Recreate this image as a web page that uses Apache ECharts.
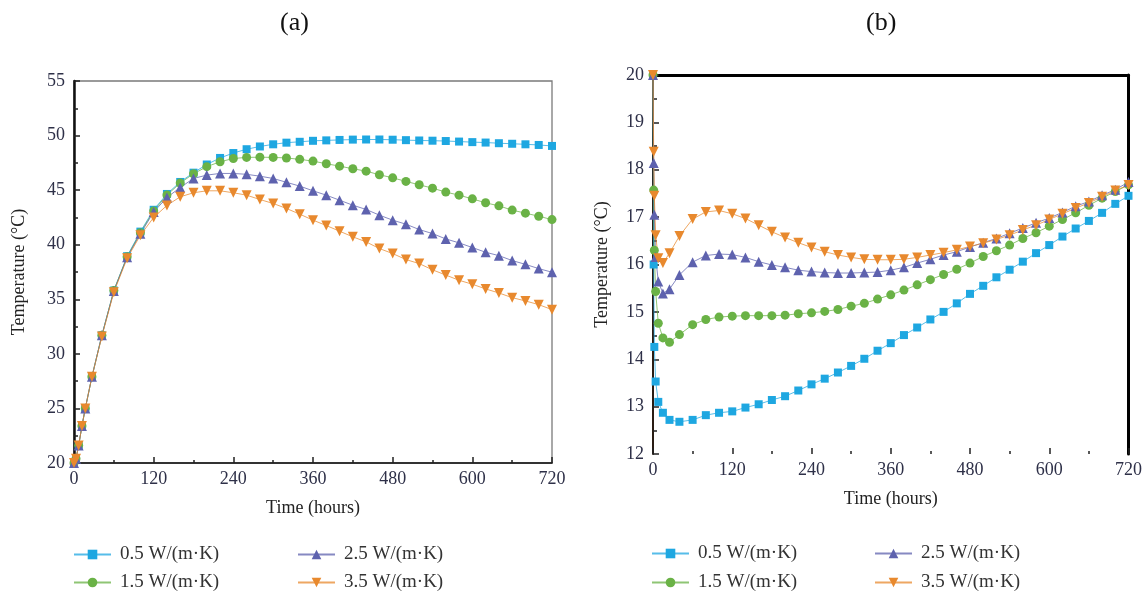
<!DOCTYPE html>
<html>
<head>
<meta charset="utf-8">
<script src="https://cdn.jsdelivr.net/npm/echarts@6/dist/echarts.min.js"></script>
<style>
html,body{margin:0;padding:0;background:#fff;}
#main{width:1145px;height:595px;}
</style>
</head>
<body>
<div id="main"></div>
<script>
// ---------- DATA ----------
var seriesNames = ['0.5 W/(m·K)', '1.5 W/(m·K)', '2.5 W/(m·K)', '3.5 W/(m·K)'];

// Panel (a) times (hours)
var timeA = [0, 3, 7, 12, 17, 27, 42, 60, 80, 100, 120, 140, 160, 180, 200, 220, 240, 260, 280, 300,
  320, 340, 360, 380, 400, 420, 440, 460, 480, 500, 520, 540, 560, 580, 600, 620, 640, 660, 680, 700, 720];
var blueA = [20, 20.4, 21.6, 23.4, 25.0, 27.9, 31.7, 35.8, 38.95, 41.2, 43.2, 44.65, 45.75, 46.6, 47.35, 47.95, 48.4, 48.75, 49.0, 49.2,
  49.35, 49.43, 49.52, 49.56, 49.6, 49.63, 49.64, 49.64, 49.62, 49.58, 49.55, 49.53, 49.5, 49.45, 49.4, 49.36, 49.3, 49.25, 49.2, 49.14, 49.05];
var greenA = [20, 20.4, 21.6, 23.4, 25.0, 27.9, 31.7, 35.8, 38.9, 41.1, 43.1, 44.55, 45.65, 46.5, 47.15, 47.6, 47.9, 48.0, 48.02, 48.0,
  47.95, 47.82, 47.66, 47.42, 47.2, 46.96, 46.74, 46.41, 46.13, 45.8, 45.49, 45.18, 44.82, 44.54, 44.2, 43.84, 43.56, 43.17, 42.89, 42.61, 42.3];
var purpleA = [20, 20.4, 21.6, 23.4, 25.0, 27.9, 31.7, 35.75, 38.85, 41.0, 43.0, 44.33, 45.24, 46.07, 46.38, 46.53, 46.53, 46.45, 46.28, 46.07,
  45.72, 45.37, 44.94, 44.54, 44.08, 43.62, 43.23, 42.71, 42.25, 41.88, 41.39, 41.02, 40.53, 40.17, 39.74, 39.31, 39.0, 38.55, 38.2, 37.81, 37.48];
var orangeA = [20, 20.4, 21.6, 23.4, 25.0, 27.9, 31.6, 35.65, 38.75, 40.87, 42.5, 43.6, 44.39, 44.76, 44.94, 44.94, 44.76, 44.54, 44.14, 43.78,
  43.32, 42.8, 42.25, 41.76, 41.24, 40.72, 40.26, 39.65, 39.19, 38.64, 38.27, 37.7, 37.22, 36.74, 36.38, 35.95, 35.58, 35.15, 34.85, 34.51, 34.05];

// Panel (b) times (hours)
var timeB = [0, 1, 2, 4, 8, 15, 25, 40, 60, 80, 100, 120, 140, 160, 180, 200, 220, 240, 260, 280, 300,
  320, 340, 360, 380, 400, 420, 440, 460, 480, 500, 520, 540, 560, 580, 600, 620, 640, 660, 680, 700, 720];
var blueB = [20, 16.0, 14.26, 13.53, 13.1, 12.87, 12.72, 12.68, 12.72, 12.82, 12.87, 12.9, 12.98, 13.05, 13.14, 13.22, 13.34, 13.47, 13.59, 13.72, 13.86,
  14.01, 14.18, 14.34, 14.51, 14.67, 14.84, 15.0, 15.18, 15.38, 15.55, 15.73, 15.89, 16.06, 16.24, 16.41, 16.59, 16.76, 16.92, 17.09, 17.28, 17.45];
var greenB = [20, 17.57, 16.3, 15.43, 14.76, 14.45, 14.36, 14.52, 14.73, 14.84, 14.89, 14.91, 14.92, 14.92, 14.92, 14.93, 14.96, 14.98, 15.01, 15.05, 15.12,
  15.18, 15.27, 15.36, 15.46, 15.57, 15.68, 15.79, 15.9, 16.03, 16.17, 16.29, 16.41, 16.55, 16.67, 16.81, 16.95, 17.09, 17.25, 17.4, 17.54, 17.68];
var purpleB = [20, 18.14, 17.05, 16.16, 15.64, 15.39, 15.48, 15.78, 16.05, 16.19, 16.22, 16.21, 16.15, 16.06, 15.99, 15.94, 15.88, 15.85, 15.83, 15.82, 15.82,
  15.83, 15.84, 15.88, 15.94, 16.03, 16.11, 16.2, 16.27, 16.37, 16.46, 16.55, 16.66, 16.77, 16.88, 16.98, 17.1, 17.23, 17.33, 17.46, 17.58, 17.74];
var orangeB = [20, 18.38, 17.45, 16.62, 16.13, 16.03, 16.24, 16.6, 16.96, 17.11, 17.14, 17.07, 16.97, 16.83, 16.69, 16.57, 16.46, 16.36, 16.27, 16.2, 16.15,
  16.11, 16.1, 16.1, 16.11, 16.15, 16.2, 16.25, 16.31, 16.38, 16.45, 16.53, 16.62, 16.73, 16.83, 16.95, 17.07, 17.19, 17.3, 17.43, 17.56, 17.68];

// ---------- STYLE ----------
var FONT = '"Liberation Serif", "Times New Roman", serif';
var colors = ['#1ea7e1', '#6ab246', '#5e62ae', '#e8892e'];
var symbols = ['rect', 'circle', 'triangle', 'triangle'];
var rotates = [0, 0, 0, 180];
var sizes = [8, 9, 10, 10];
var labelColor = '#2e3048';

function pairs(t, v) { return t.map(function (x, i) { return [x, v[i]]; }); }

function mkSeries(name, idx, gi, t, v) {
  return {
    name: name, type: 'line', xAxisIndex: gi, yAxisIndex: gi,
    data: pairs(t, v),
    symbol: symbols[idx], symbolSize: sizes[idx], symbolRotate: rotates[idx],
    showAllSymbol: true, clip: false,
    itemStyle: { color: colors[idx] },
    lineStyle: { color: colors[idx], width: 1, opacity: 0.75 },
    emphasis: { disabled: true },
    animation: false
  };
}

function xAxisCfg(gi, showLine) {
  return {
    type: 'value', gridIndex: gi, min: 0, max: 720, interval: 120,
    name: 'Time (hours)', nameLocation: 'middle', nameGap: 36,
    nameTextStyle: { fontFamily: FONT, fontSize: 18, color: '#222' },
    axisLine: { show: showLine, lineStyle: { color: '#111', width: 1.5 } },
    axisTick: { show: true, inside: true, length: 6, lineStyle: { color: '#222', width: 1.5 } },
    minorTick: { show: true, splitNumber: 2, length: 3, lineStyle: { color: '#222', width: 1.5 } },
    axisLabel: { fontFamily: FONT, fontSize: 18, color: labelColor, margin: 7, showMinLabel: true, showMaxLabel: true },
    splitLine: { show: false }
  };
}
function yAxisCfg(gi, min, max, interval, lineColor, lineWidth, nameGap) {
  return {
    type: 'value', gridIndex: gi, min: min, max: max, interval: interval,
    name: 'Temperature (°C)', nameLocation: 'middle', nameGap: nameGap,
    nameTextStyle: { fontFamily: FONT, fontSize: 18, color: '#222' },
    axisLine: { show: true, lineStyle: { color: lineColor, width: lineWidth } },
    axisTick: { show: true, inside: true, length: 6, lineStyle: { color: '#222', width: 1.5 } },
    minorTick: { show: true, splitNumber: 2, length: 4, lineStyle: { color: '#222', width: 1.5 } },
    axisLabel: { fontFamily: FONT, fontSize: 18, color: labelColor, margin: 9, showMinLabel: true, showMaxLabel: true },
    splitLine: { show: false }
  };
}

function legendItem(left, top, name) {
  return {
    orient: 'horizontal', left: left, top: top, padding: 0,
    data: [name], itemWidth: 37, itemHeight: 12,
    selectedMode: false,
    textStyle: { fontFamily: FONT, fontSize: 19, color: '#333', lineHeight: 12, padding: [0, 0, 0, 4] }
  };
}

var series = [];
series.push(mkSeries(seriesNames[0], 0, 0, timeA, blueA));
series.push(mkSeries(seriesNames[1], 1, 0, timeA, greenA));
series.push(mkSeries(seriesNames[2], 2, 0, timeA, purpleA));
series.push(mkSeries(seriesNames[3], 3, 0, timeA, orangeA));
series.push(mkSeries(seriesNames[0], 0, 1, timeB, blueB));
series.push(mkSeries(seriesNames[1], 1, 1, timeB, greenB));
series.push(mkSeries(seriesNames[2], 2, 1, timeB, purpleB));
series.push(mkSeries(seriesNames[3], 3, 1, timeB, orangeB));

var frameX = {
  type: 'value', gridIndex: 1, position: 'top', min: 0, max: 720,
  axisLine: { show: true, onZero: false, lineStyle: { color: '#000', width: 3 } },
  axisTick: { show: false }, axisLabel: { show: false }, splitLine: { show: false }
};
var frameY = {
  type: 'value', gridIndex: 1, position: 'right', min: 12, max: 20,
  axisLine: { show: true, onZero: false, lineStyle: { color: '#000', width: 3 } },
  axisTick: { show: false }, axisLabel: { show: false }, splitLine: { show: false }
};

var option = {
  backgroundColor: '#fff',
  animation: false,
  grid: [
    { left: 74, right: 593, top: 81, bottom: 132, show: true, borderColor: '#7a7a7a', borderWidth: 1.3, backgroundColor: 'transparent' },
    { left: 653, right: 16, top: 75, bottom: 141 }
  ],
  xAxis: [xAxisCfg(0, true), xAxisCfg(1, false), frameX],
  yAxis: [yAxisCfg(0, 20, 55, 5, '#111', 2.5, 46), yAxisCfg(1, 12, 20, 1, '#2a1d14', 2, 42), frameY],
  legend: [
    legendItem(73, 545, seriesNames[0]),
    legendItem(73, 573, seriesNames[1]),
    legendItem(297, 545, seriesNames[2]),
    legendItem(297, 573, seriesNames[3]),
    legendItem(651, 544, seriesNames[0]),
    legendItem(651, 573, seriesNames[1]),
    legendItem(874, 544, seriesNames[2]),
    legendItem(874, 573, seriesNames[3])
  ],
  graphic: [
    { type: 'text', left: 280, top: 10, style: { text: '(a)', fontFamily: FONT, fontSize: 26, fill: '#111' } },
    { type: 'text', left: 866, top: 10, style: { text: '(b)', fontFamily: FONT, fontSize: 26, fill: '#111' } }
  ],
  series: series
};

var chart = echarts.init(document.getElementById('main'), null, { renderer: 'canvas' });
chart.setOption(option);
</script>
</body>
</html>
